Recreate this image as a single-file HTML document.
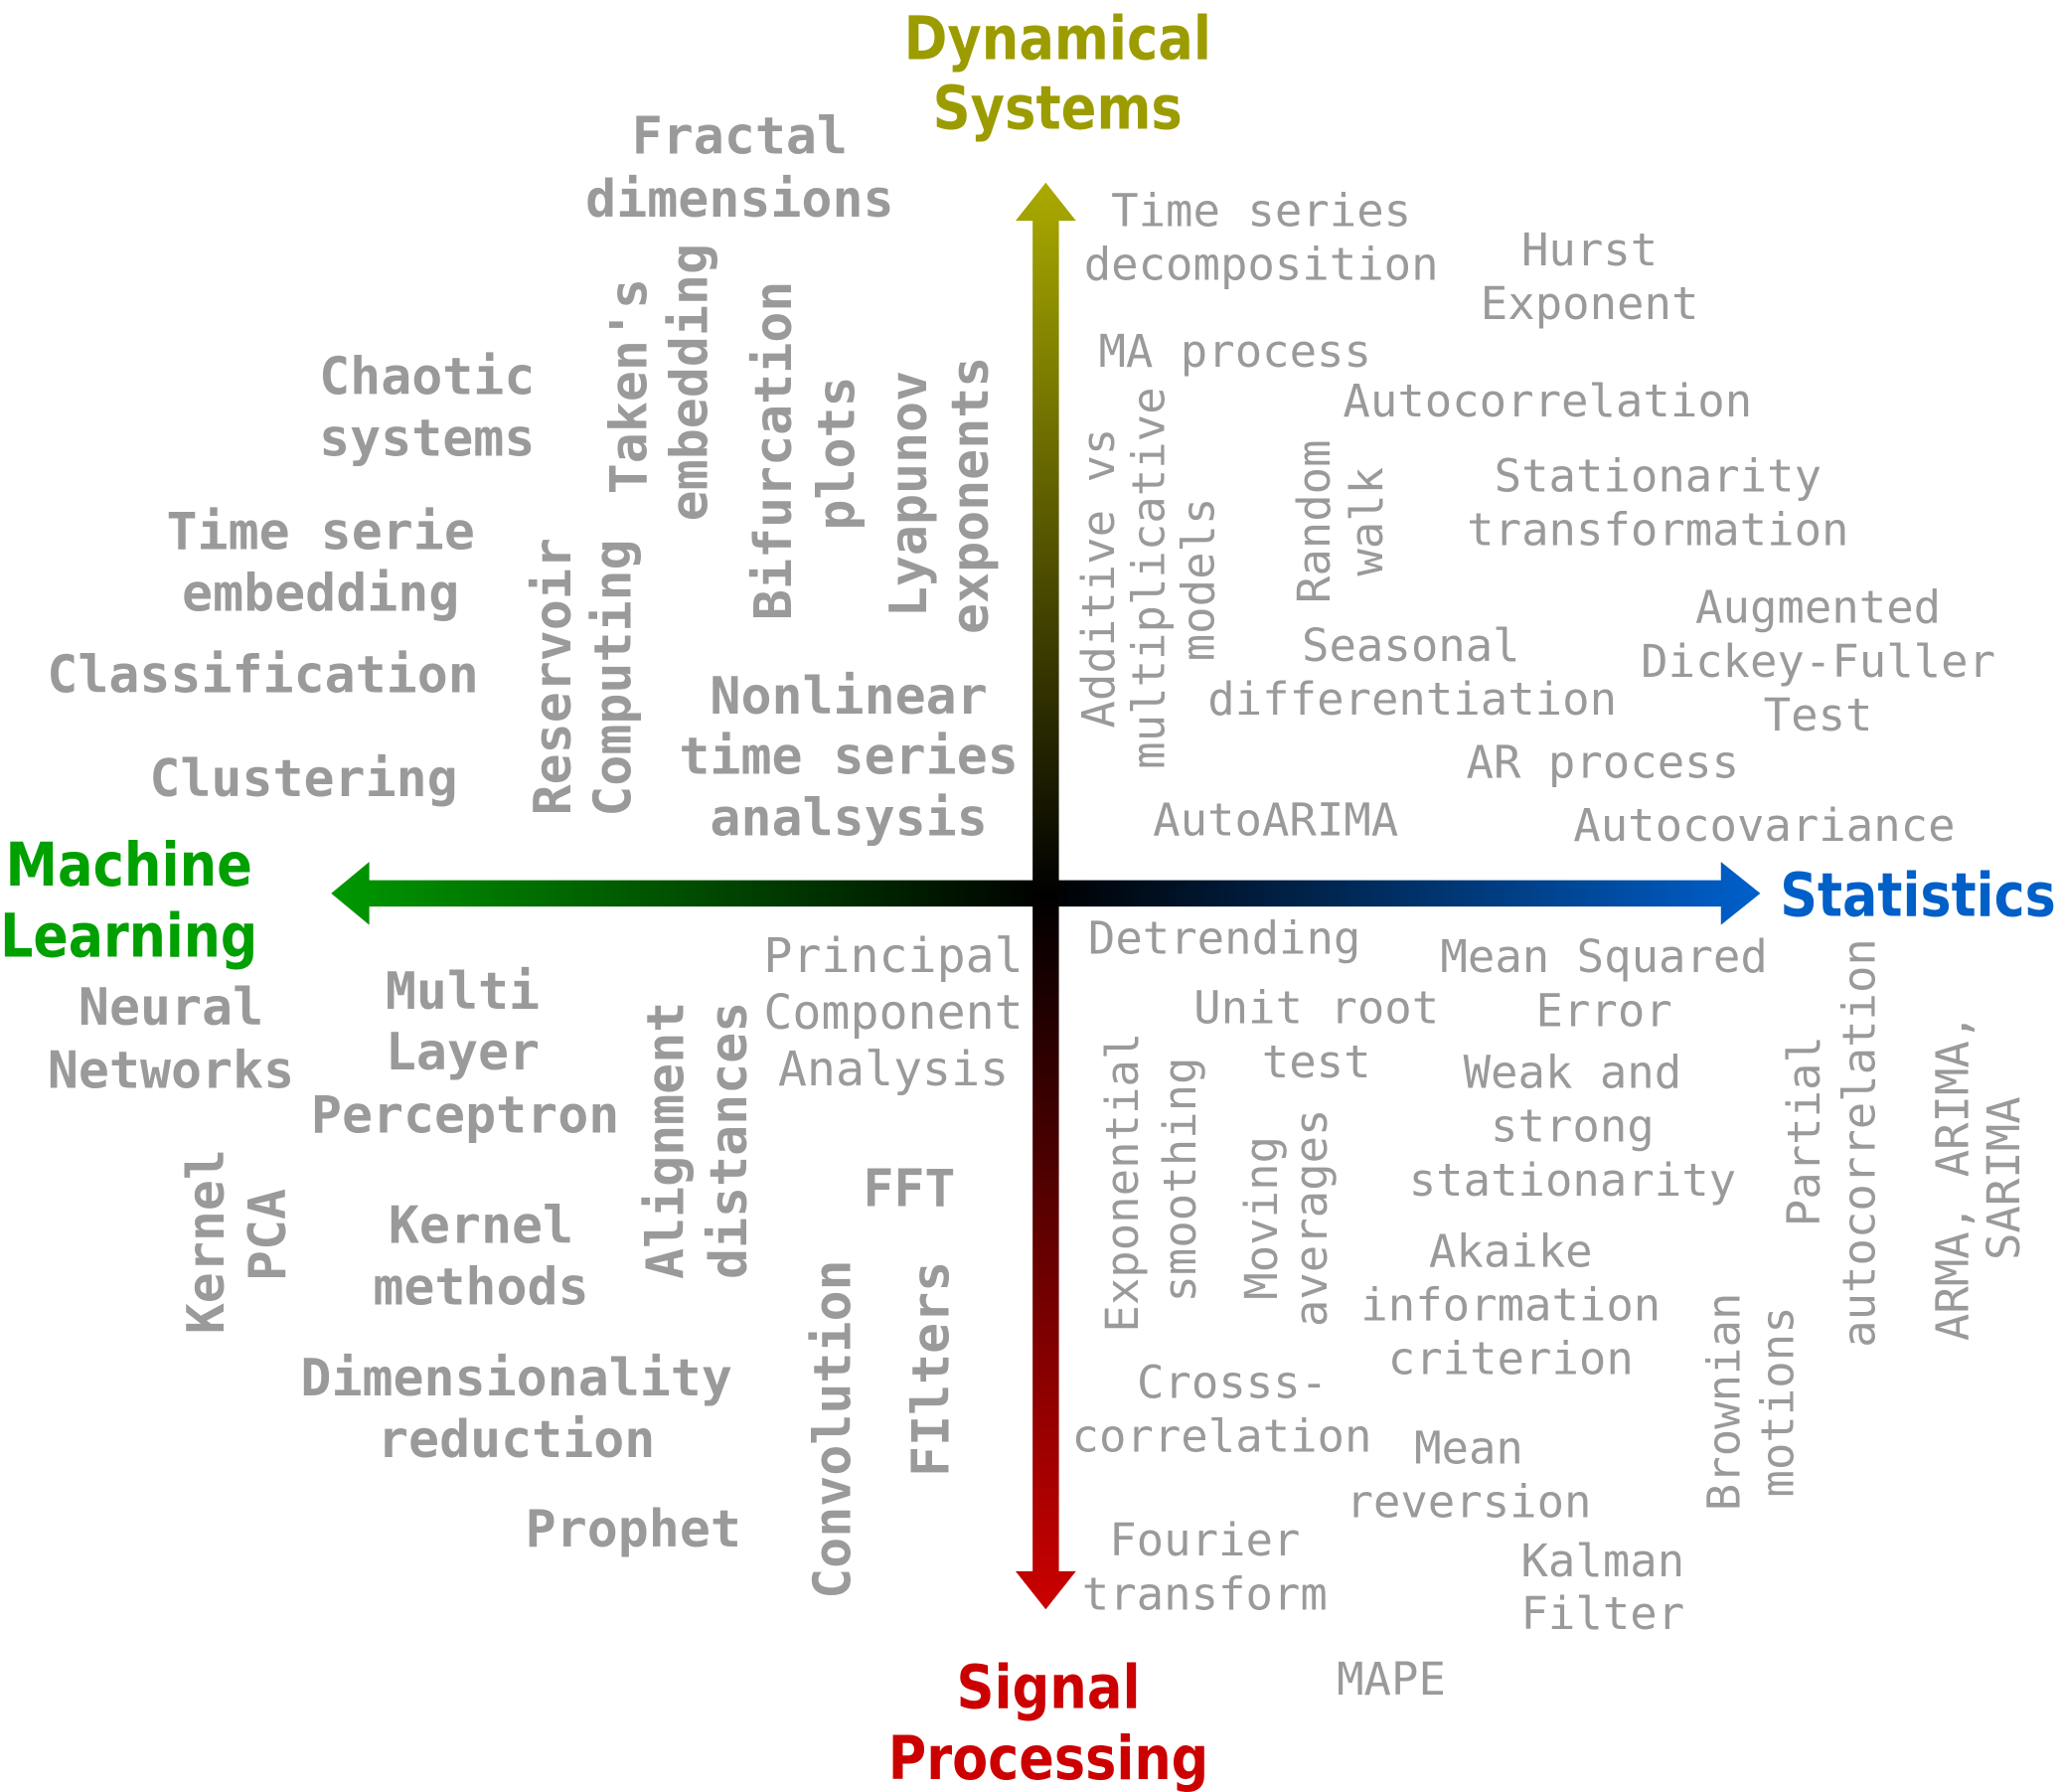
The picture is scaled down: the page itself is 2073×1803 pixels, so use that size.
<!DOCTYPE html>
<html><head><meta charset="utf-8"><style>
html,body{margin:0;padding:0;background:#fff;width:2073px;height:1803px;overflow:hidden}
svg{display:block}
.b{font-family:"DejaVu Sans Mono","Liberation Mono",monospace;font-weight:bold;fill:#9a9a9a;font-size:39px;text-anchor:middle}
.n{font-family:"DejaVu Sans Mono","Liberation Mono",monospace;fill:#9a9a9a;font-size:34.5px;text-anchor:middle}
.t{font-family:"DejaVu Sans","Liberation Sans",sans-serif;font-weight:bold;font-size:46px;text-anchor:middle}
</style></head><body>
<svg width="2073" height="1803" viewBox="0 0 1568 1364" xmlns="http://www.w3.org/2000/svg">
<defs>
<linearGradient id="gv" x1="0" y1="140" x2="0" y2="1225" gradientUnits="userSpaceOnUse">
<stop offset="0" stop-color="#aaaa00"/><stop offset="0.5" stop-color="#000"/><stop offset="1" stop-color="#cc0000"/></linearGradient>
<linearGradient id="gh" x1="252" y1="0" x2="1340" y2="0" gradientUnits="userSpaceOnUse">
<stop offset="0" stop-color="#009900"/><stop offset="0.5" stop-color="#000"/><stop offset="1" stop-color="#0060cc"/></linearGradient>
</defs>
<polygon fill="url(#gh)" points="252,680 281,656 281,670 1310,670 1310,656 1340,680 1310,704 1310,690 281,690 281,704"/>
<polygon fill="url(#gv)" points="796,139 819,168 806,168 806,1196 819,1196 796,1225 773,1196 786,1196 786,168 773,168"/>

<text class="t" fill="#9c9c00" x="805" y="45" textLength="234" lengthAdjust="spacingAndGlyphs">Dynamical</text>
<text class="t" fill="#9c9c00" x="805" y="98" textLength="190" lengthAdjust="spacingAndGlyphs">Systems</text>
<text class="t" fill="#00a000" x="98" y="674" textLength="188" lengthAdjust="spacingAndGlyphs">Machine</text>
<text class="t" fill="#00a000" x="98" y="728" textLength="196" lengthAdjust="spacingAndGlyphs">Learning</text>
<text class="t" fill="#0060c8" x="1460" y="697" textLength="210" lengthAdjust="spacingAndGlyphs">Statistics</text>
<text class="t" fill="#cc0000" x="798" y="1300" textLength="140" lengthAdjust="spacingAndGlyphs">Signal</text>
<text class="t" fill="#cc0000" x="798" y="1354" textLength="244" lengthAdjust="spacingAndGlyphs">Processing</text>

<g class="b">
<text x="563" y="117">Fractal</text><text x="563" y="165">dimensions</text>
<text x="325" y="300">Chaotic</text><text x="325" y="347">systems</text>
<text x="244" y="418">Time serie</text><text x="244" y="465">embedding</text>
<text x="200" y="527">Classification</text>
<text x="231" y="606">Clustering</text>
<text x="646" y="543">Nonlinear</text><text x="646" y="589">time series</text><text x="646" y="636">analsysis</text>
<text transform="translate(434,515) rotate(-90)">Reservoir</text>
<text transform="translate(480,516) rotate(-90)">Computing</text>
<text transform="translate(492,294) rotate(-90)">Taken's</text>
<text transform="translate(538,291) rotate(-90)">embedding</text>
<text transform="translate(602,343) rotate(-90)">Bifurcation</text>
<text transform="translate(650,345) rotate(-90)">plots</text>
<text transform="translate(705,376) rotate(-90)">Lyapunov</text>
<text transform="translate(752,377) rotate(-90)">exponents</text>
<text x="130" y="780">Neural</text><text x="130" y="828">Networks</text>
<text x="352" y="768">Multi</text><text x="352" y="814">Layer</text><text x="354" y="862">Perceptron</text>
<text x="366" y="946">Kernel</text><text x="366" y="993">methods</text>
<text x="393" y="1062">Dimensionality</text><text x="393" y="1109">reduction</text>
<text x="482" y="1177">Prophet</text>
<text transform="translate(170,945) rotate(-90)">Kernel</text>
<text transform="translate(217,940) rotate(-90)">PCA</text>
<text transform="translate(520,868) rotate(-90)">Alignment</text>
<text transform="translate(568,868) rotate(-90)">distances</text>
<text x="692" y="918">FFT</text>
<text transform="translate(647,1088) rotate(-90)">Convolution</text>
<text transform="translate(722,1042) rotate(-90)">FIlters</text>
</g>
<g class="n">
<text x="680" y="740" style="font-size:36.5px">Principal</text>
<text x="680" y="783" style="font-size:36.5px">Component</text>
<text x="680" y="826" style="font-size:36.5px">Analysis</text>
<text x="960" y="172">Time series</text><text x="960" y="213">decomposition</text>
<text x="1210" y="202">Hurst</text><text x="1210" y="243">Exponent</text>
<text x="940" y="279">MA process</text>
<text x="1178" y="317">Autocorrelation</text>
<text x="1262" y="374">Stationarity</text><text x="1262" y="415">transformation</text>
<text x="1384" y="474">Augmented</text><text x="1384" y="515">Dickey-Fuller</text><text x="1384" y="556">Test</text>
<text x="1074" y="503">Seasonal</text><text x="1075" y="544">differentiation</text>
<text x="1220" y="592">AR process</text>
<text x="971" y="636">AutoARIMA</text>
<text x="1343" y="640">Autocovariance</text>
<text transform="translate(848,440) rotate(-90)">Additive vs</text>
<text transform="translate(886,440) rotate(-90)">multiplicative</text>
<text transform="translate(924,441) rotate(-90)">models</text>
<text transform="translate(1012,397) rotate(-90)">Random</text>
<text transform="translate(1052,397) rotate(-90)">walk</text>
<text x="932" y="726">Detrending</text>
<text x="1221" y="740">Mean Squared</text><text x="1221" y="781">Error</text>
<text x="1002" y="779">Unit root</text><text x="1002" y="820">test</text>
<text x="1197" y="828">Weak and</text><text x="1197" y="869">strong</text><text x="1197" y="910">stationarity</text>
<text transform="translate(866,900) rotate(-90)">Exponential</text>
<text transform="translate(910,898) rotate(-90)">smoothing</text>
<text transform="translate(972,927) rotate(-90)">Moving</text>
<text transform="translate(1010,927) rotate(-90)">averages</text>
<text x="1150" y="964">Akaike</text><text x="1150" y="1005">information</text><text x="1150" y="1046">criterion</text>
<text transform="translate(1385,861) rotate(-90)">Partial</text>
<text transform="translate(1427,870) rotate(-90)">autocorrelation</text>
<text transform="translate(1498,896) rotate(-90)">ARMA, ARIMA,</text>
<text transform="translate(1537,897) rotate(-90)">SARIMA</text>
<text x="938" y="1064">Crosss-</text><text x="930" y="1105">correlation</text>
<text x="1118" y="1114">Mean</text><text x="1118" y="1155">reversion</text>
<text transform="translate(1324,1067) rotate(-90)">Brownian</text>
<text transform="translate(1365,1067) rotate(-90)">motions</text>
<text x="917" y="1184">Fourier</text><text x="917" y="1225">transform</text>
<text x="1220" y="1200">Kalman</text><text x="1220" y="1240">Filter</text>
<text x="1059" y="1290">MAPE</text>
</g>
</svg>
</body></html>
